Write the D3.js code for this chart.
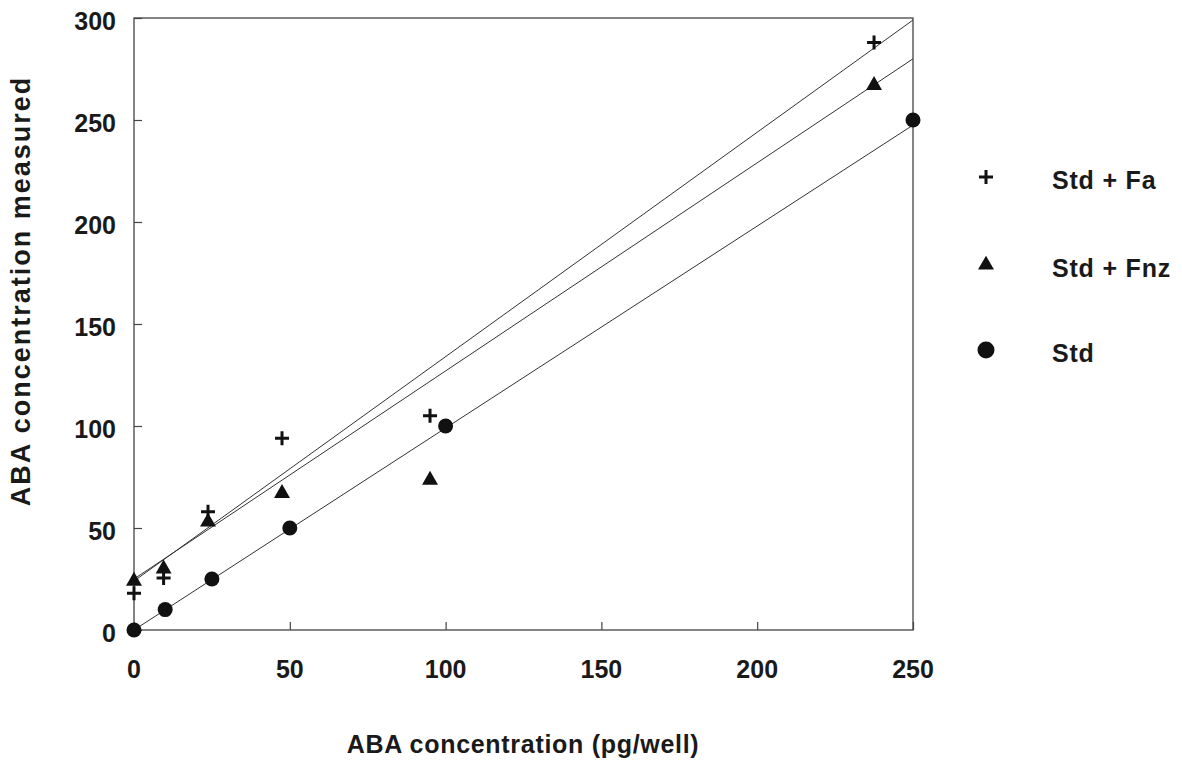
<!DOCTYPE html>
<html>
<head>
<meta charset="utf-8">
<script src="https://d3js.org/d3.v7.min.js"></script>
<style>
  body { margin: 0; background: #fff; }
  text { font-family: "Liberation Sans", Arial, sans-serif; font-weight: bold; fill: #1a1a1a; }
</style>
</head>
<body>
<div id="chart"></div>
<script>
// data
const xStd = [0, 10, 25, 50, 100, 250];
const yStd = [0, 10, 25, 50, 100, 250];
const xSpiked = [0, 9.5, 23.75, 47.5, 95, 237.5];
const yFa = [18, 25.5, 58, 94, 105, 288];
const yFnz = [24, 30, 53, 67, 73.5, 267];
// fitted lines: [intercept, slope]
const fitFa = [24, 1.10];
const fitFnz = [25, 1.02];
const fitStd = [0, 0.99];
const xTicks = [0, 50, 100, 150, 200, 250];
const yTicks = [0, 50, 100, 150, 200, 250, 300];

const width = 1182, height = 760;
const m = {left: 134, top: 18, right: 269, bottom: 130};

const svg = d3.select("#chart").append("svg")
    .attr("width", width)
    .attr("height", height);

let x = d3.scaleLinear().domain([0, 250]).range([m.left, width - m.right]);
let y = d3.scaleLinear().domain([0, 300]).range([height - m.bottom, m.top]);

// frame
svg.append("rect")
    .attr("x", x(0)).attr("y", y(300))
    .attr("width", x(250) - x(0)).attr("height", y(0) - y(300))
    .attr("fill", "none").attr("stroke", "#444").attr("stroke-width", 1.3);

// axes with inward ticks
svg.append("g")
    .attr("transform", `translate(0,${y(0)})`)
    .call(d3.axisTop(x).tickValues(xTicks).tickSize(8).tickFormat(""));
svg.append("g")
    .attr("transform", `translate(${x(0)},0)`)
    .call(d3.axisRight(y).tickValues(yTicks).tickSize(8).tickFormat(""));
svg.selectAll(".domain").remove();
svg.selectAll(".tick line").attr("stroke", "#444").attr("stroke-width", 1.2);

// tick labels
svg.selectAll(".xlab").data(xTicks).enter().append("text")
    .attr("x", d => x(d)).attr("y", y(0) + 48)
    .attr("text-anchor", "middle").attr("font-size", 25)
    .text(d => d);
svg.selectAll(".ylab").data(yTicks).enter().append("text")
    .attr("x", 116).attr("y", d => y(d) + 12)
    .attr("text-anchor", "end").attr("font-size", 25)
    .text(d => d);

// axis titles
svg.append("text")
    .attr("x", 523).attr("y", 753)
    .attr("text-anchor", "middle").attr("font-size", 25)
    .attr("letter-spacing", 0.7)
    .text("ABA concentration (pg/well)");
svg.append("text")
    .attr("transform", "translate(30,291) rotate(-90)")
    .attr("text-anchor", "middle").attr("font-size", 27)
    .attr("letter-spacing", 2)
    .text("ABA concentration measured");

// regression lines
[fitFa, fitFnz, fitStd].forEach(f => {
  svg.append("line")
      .attr("x1", x(0)).attr("y1", y(f[0]))
      .attr("x2", x(250)).attr("y2", y(f[0] + f[1] * 250))
      .attr("stroke", "#333").attr("stroke-width", 1);
});

// markers
function drawPlus(g, cx, cy) {
  g.append("path")
      .attr("d", `M${cx - 7},${cy}H${cx + 7}M${cx},${cy - 7}V${cy + 7}`)
      .attr("stroke", "#111").attr("stroke-width", 3).attr("fill", "none");
}
function drawTri(g, cx, cy) {
  g.append("path")
      .attr("d", d3.symbol().type(d3.symbolTriangle).size(110)())
      .attr("transform", `translate(${cx},${cy})`)
      .attr("fill", "#111");
}
function drawDot(g, cx, cy, r) {
  g.append("circle").attr("cx", cx).attr("cy", cy).attr("r", r || 7.5).attr("fill", "#111");
}

let pts = svg.append("g");
xSpiked.forEach((d, i) => drawPlus(pts, x(d), y(yFa[i])));
xSpiked.forEach((d, i) => drawTri(pts, x(d), y(yFnz[i])));
xStd.forEach((d, i) => drawDot(pts, x(d), y(yStd[i])));

// legend
const legend = [
  {label: "Std + Fa", draw: drawPlus, y: 177},
  {label: "Std + Fnz", draw: drawTri, y: 265},
  {label: "Std", draw: (g, a, b) => drawDot(g, a, b, 8.5), y: 350}
];
legend.forEach(l => {
  l.draw(svg, 986, l.y);
  svg.append("text")
      .attr("x", 1052).attr("y", l.y + 12)
      .attr("font-size", 25)
      .attr("letter-spacing", 0.8)
      .text(l.label);
});
</script>
</body>
</html>
